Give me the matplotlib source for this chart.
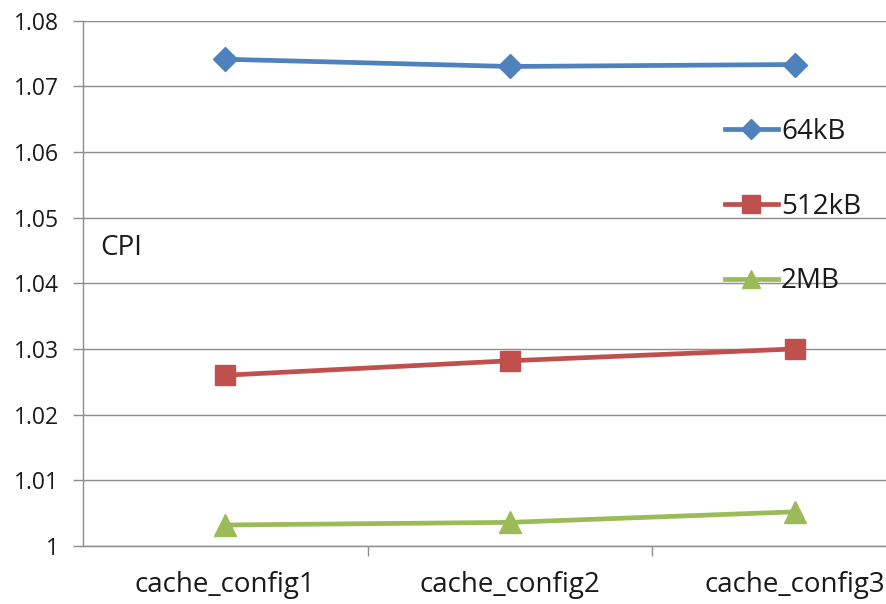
import matplotlib
matplotlib.use("Agg")
import matplotlib.pyplot as plt

categories = ["cache_config1", "cache_config2", "cache_config3"]
cpi_64kb = [1.0741, 1.0730, 1.0733]
cpi_512kb = [1.0260, 1.0282, 1.0300]
cpi_2mb = [1.0032, 1.0036, 1.0052]
y_ticks = [1.00, 1.01, 1.02, 1.03, 1.04, 1.05, 1.06, 1.07, 1.08]
y_tick_labels = ["1", "1.01", "1.02", "1.03", "1.04", "1.05", "1.06", "1.07", "1.08"]

plt.rcParams["font.family"] = ["Open Sans", "DejaVu Sans"]
W, H = 886, 604
fig = plt.figure(figsize=(W / 100, H / 100), dpi=100)
fig.patch.set_facecolor("white")

left, right, top, bottom = 83, 937, 20.5, 546
ax = fig.add_axes([left / W, 1 - bottom / H, (right - left) / W, (bottom - top) / H])

x = list(range(len(categories)))
grid_c = "#8c8c8c"
txt_c = "#1a1a1a"
fs = 20
fs_y = 16.5

ax.plot(x, cpi_64kb, color="#4F81BD", lw=3.4, marker="D", ms=12.5, label="64kB", clip_on=False)
ax.plot(x, cpi_512kb, color="#C0504D", lw=3.4, marker="s", ms=15, label="512kB", clip_on=False)
ax.plot(x, cpi_2mb, color="#9BBB59", lw=3.4, marker="^", ms=16, label="2MB", clip_on=False)

ax.set_xlim(-0.5, len(categories) - 0.5)
ax.set_ylim(1.0, 1.08)
ax.set_yticks(y_ticks)
ax.set_yticklabels(y_tick_labels)
ax.set_xticks(x)
ax.set_xticklabels(categories)
ax.set_xticks([i + 0.5 for i in range(len(categories) - 1)], minor=True)

ax.grid(axis="y", color=grid_c, lw=1)
ax.set_axisbelow(True)
for s in ["top", "right"]:
    ax.spines[s].set_visible(False)
for s in ["left", "bottom"]:
    ax.spines[s].set_color(grid_c)
    ax.spines[s].set_linewidth(1)

ax.tick_params(axis="y", length=7, width=1, color=grid_c, pad=10, labelsize=fs_y, labelcolor=txt_c)
ax.tick_params(axis="x", which="major", length=0, pad=18, labelsize=fs, labelcolor=txt_c)
ax.tick_params(axis="x", which="minor", length=7, width=1, color=grid_c)

# axis caption sitting inside the plot area
fig.text(100 / W, 1 - 248 / H, "CPI", fontsize=fs, color=txt_c, va="center", ha="left")

leg = ax.legend(loc="upper left", bbox_to_anchor=(725 / W, 1 - 118 / H),
                bbox_transform=fig.transFigure, frameon=False, fontsize=fs,
                handlelength=1.9, handletextpad=0.12, labelspacing=1.68,
                borderpad=0, borderaxespad=0, markerscale=0.85)
for t in leg.get_texts():
    t.set_color(txt_c)

fig.savefig("out.png", dpi=100, facecolor="white")
